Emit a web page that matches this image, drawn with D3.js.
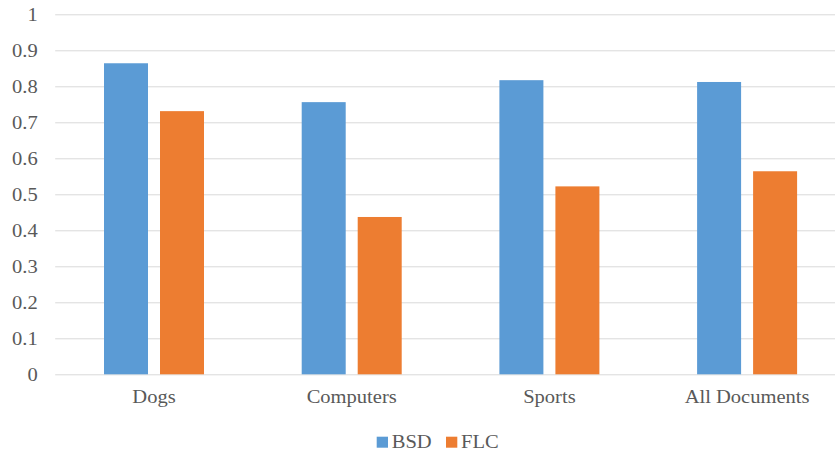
<!DOCTYPE html>
<html>
<head>
<meta charset="utf-8">
<script src="https://cdn.jsdelivr.net/npm/d3@7"></script>
<style>
  html, body { margin: 0; padding: 0; background: #fff; }
  svg { display: block; }
</style>
</head>
<body>
<svg id="chart" width="835" height="457"></svg>
<script>
const categories = ["Dogs", "Computers", "Sports", "All Documents"];
const seriesNames = ["BSD", "FLC"];
const bsdValues = [0.864, 0.756, 0.817, 0.812];
const flcValues = [0.731, 0.437, 0.522, 0.564];
const yTicks = [0, 0.1, 0.2, 0.3, 0.4, 0.5, 0.6, 0.7, 0.8, 0.9, 1];
const yTickLabels = ["0", "0.1", "0.2", "0.3", "0.4", "0.5", "0.6", "0.7", "0.8", "0.9", "1"];
const colors = ["#5b9bd5", "#ed7d31"];

(function () {
const FONT = "Liberation Serif, Times New Roman, serif";
const FSIZE = 18.5;
const STRETCH = 1.11;
const TXT = "#595959";
const svg = d3.select("#chart");
const mLeft = 55.2, mRight = 846, mTop = 14.3, mBottom = 374.3;

function widen(sel) {
  sel.each(function () {
    const w = this.getComputedTextLength();
    d3.select(this).attr("textLength", w * STRETCH).attr("lengthAdjust", "spacingAndGlyphs");
  });
}

const x0 = d3.scaleBand().domain(categories).range([mLeft, mRight]).paddingInner(0).paddingOuter(0);
const x1 = d3.scaleBand().domain(seriesNames).range([48.8, 148.8]).paddingInner(0.2143).paddingOuter(0);
const y = d3.scaleLinear().domain([0, 1]).range([mBottom, mTop]);

// gridlines
const grid = svg.append("g")
  .attr("transform", `translate(${mLeft},0)`)
  .call(d3.axisLeft(y).tickValues(yTicks).tickSize(-(mRight - mLeft)).tickFormat(""));
grid.select(".domain").remove();
grid.selectAll("line").attr("stroke", "#d9d9d9").attr("stroke-width", 1);

// y labels
const yAxis = svg.append("g")
  .attr("transform", `translate(${mLeft},0)`)
  .call(d3.axisLeft(y).tickValues(yTicks).tickSize(0).tickPadding(17.5)
    .tickFormat((d, i) => yTickLabels[i]));
yAxis.select(".domain").remove();
yAxis.attr("font-family", FONT).attr("font-size", FSIZE);
yAxis.selectAll("text").attr("fill", TXT).attr("dy", "0.34em").call(widen);

// bars
const data = categories.map((c, i) => ({ cat: c, vals: [bsdValues[i], flcValues[i]] }));
const groups = svg.append("g").selectAll("g").data(data).join("g")
  .attr("transform", d => `translate(${x0(d.cat)},0)`);
groups.selectAll("rect")
  .data(d => d.vals.map((v, j) => ({ name: seriesNames[j], v, j })))
  .join("rect")
  .attr("x", d => x1(d.name))
  .attr("width", x1.bandwidth())
  .attr("y", d => y(d.v))
  .attr("height", d => y(0) - y(d.v))
  .attr("fill", d => colors[d.j]);

// x labels
const groupCenter = (x1(seriesNames[0]) + x1(seriesNames[1]) + x1.bandwidth()) / 2;
const xAxis = svg.append("g")
  .attr("transform", `translate(0,${mBottom})`)
  .call(d3.axisBottom(x0).tickSize(0).tickPadding(15.9));
xAxis.select(".domain").remove();
xAxis.attr("font-family", FONT).attr("font-size", FSIZE);
xAxis.selectAll("text").attr("fill", TXT)
  .attr("x", groupCenter - x0.bandwidth() / 2).call(widen);

// legend
const legend = svg.append("g").attr("font-family", FONT).attr("font-size", FSIZE);
const legendItems = [{ name: "BSD", x: 376.7 }, { name: "FLC", x: 446 }];
legendItems.forEach((it, i) => {
  legend.append("rect").attr("x", it.x).attr("y", 436.7).attr("width", 11.3).attr("height", 11).attr("fill", colors[i]);
  legend.append("text").attr("x", it.x + 15).attr("y", 448).attr("fill", TXT).text(it.name).call(widen);
});
})();
</script>
</body>
</html>
